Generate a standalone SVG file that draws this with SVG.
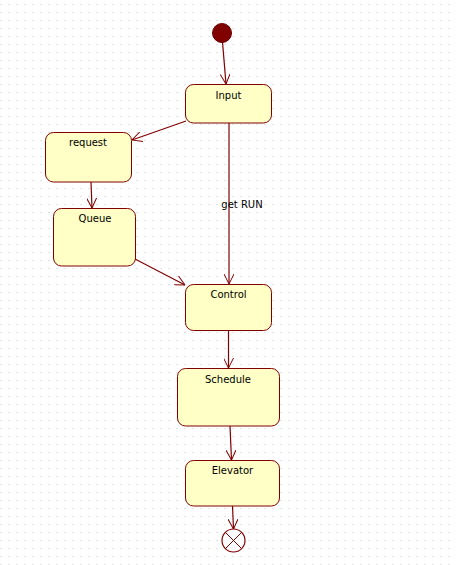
<svg xmlns="http://www.w3.org/2000/svg" width="456" height="565" viewBox="0 0 456 565">
<defs>
<pattern id="grid" x="0" y="0" width="8" height="8" patternUnits="userSpaceOnUse">
<rect x="0.5" y="4" width="1" height="1" fill="#c8c8c8"/>
</pattern>
<marker id="arr" viewBox="0 0 10 10" refX="10" refY="5" markerWidth="10" markerHeight="10" markerUnits="userSpaceOnUse" orient="auto">
<path d="M0,0 L10,5 L0,10" fill="none" stroke="#800000" stroke-width="1"/>
</marker>
<style>
.st{fill:#ffffc6;stroke:#800000;stroke-width:1}
.lbl{font-family:"DejaVu Sans",sans-serif;font-size:10px;fill:#000;text-anchor:middle}
.c{stroke:#800000;stroke-width:1.2;fill:none;marker-end:url(#arr)}
</style>
</defs>
<rect width="456" height="565" fill="#ffffff"/>
<rect width="456" height="565" fill="url(#grid)"/>
<g id="connectors">
<line class="c" x1="222.5" y1="42" x2="226" y2="84"/>
<line class="c" x1="186" y1="121" x2="132" y2="140"/>
<line class="c" x1="91" y1="182" x2="92" y2="208"/>
<line class="c" x1="135" y1="259" x2="185" y2="285"/>
<line class="c" x1="229" y1="123" x2="229" y2="284"/>
<text class="lbl" x="242" y="208">get RUN</text>
<line class="c" x1="228.5" y1="331" x2="228.5" y2="368"/>
<line class="c" x1="230" y1="426" x2="231.5" y2="460"/>
<line class="c" x1="232.5" y1="506" x2="233.5" y2="529"/>
</g>
<g id="initial"><circle cx="222" cy="33" r="9.5" fill="#800000" stroke="#6a0000"/></g>
<g id="input"><rect class="st" x="185.5" y="84.5" width="86" height="38.5" rx="8"/><text class="lbl" x="228.5" y="99">Input</text></g>
<g id="request"><rect class="st" x="45.5" y="132.5" width="86" height="49.5" rx="8"/><text class="lbl" x="88" y="146">request</text></g>
<g id="queue"><rect class="st" x="53.5" y="208.5" width="82" height="57.5" rx="8"/><text class="lbl" x="95" y="222">Queue</text></g>
<g id="control"><rect class="st" x="185.5" y="284.5" width="86" height="46" rx="8"/><text class="lbl" x="228.5" y="298">Control</text></g>
<g id="schedule"><rect class="st" x="177.5" y="368.5" width="102" height="57.5" rx="8"/><text class="lbl" x="228" y="383">Schedule</text></g>
<g id="elevator"><rect class="st" x="185.5" y="460.5" width="94" height="45.5" rx="8"/><text class="lbl" x="232.5" y="474">Elevator</text></g>
<g id="final">
<circle cx="233.5" cy="540.5" r="11.5" fill="#ffffff" stroke="#800000" stroke-width="1.2"/>
<line x1="225.4" y1="532.4" x2="241.6" y2="548.6" stroke="#800000"/>
<line x1="241.6" y1="532.4" x2="225.4" y2="548.6" stroke="#800000"/>
</g>
</svg>
